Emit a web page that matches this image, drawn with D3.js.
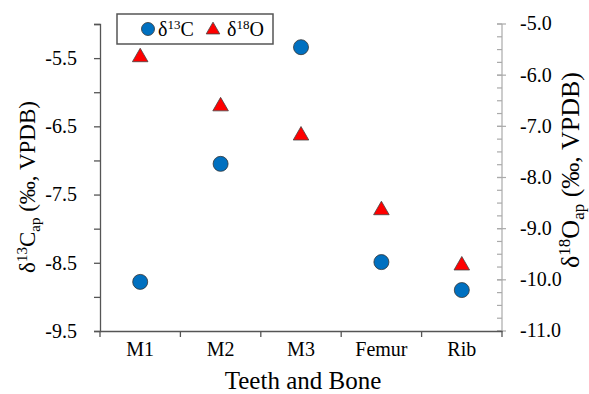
<!DOCTYPE html>
<html>
<head>
<meta charset="utf-8">
<script src="https://cdn.jsdelivr.net/npm/d3@7"></script>
<style>
  body { margin: 0; background: #fff; }
  svg text { font-family: "Liberation Serif", "Times New Roman", serif; fill: #000; }
</style>
</head>
<body>
<svg id="chart" width="589" height="394"></svg>
<script>
// data
const samples = ['M1', 'M2', 'M3', 'Femur', 'Rib'];
const d13C = [-8.78, -7.05, -5.34, -8.49, -8.90];
const d18O = [-5.62, -6.58, -7.15, -8.61, -9.69];
const leftTicks = [-9.5, -8.5, -7.5, -6.5, -5.5];
const rightTicks = [-11.0, -10.0, -9.0, -8.0, -7.0, -6.0, -5.0];

const svg = d3.select('#chart');
const plot = { left: 100, right: 502, top: 24, bottom: 331 };
const serif = '"Liberation Serif", "Times New Roman", serif';

const x = d3.scaleBand().domain(samples).range([plot.left, plot.right]);
const yL = d3.scaleLinear().domain([-9.5, -5.0]).range([plot.bottom, plot.top]);
const yR = d3.scaleLinear().domain([-11.0, -5.0]).range([plot.bottom, plot.top]);

// left axis
const leftAxis = d3.axisLeft(yL)
    .tickValues(d3.range(-9.5, -4.99, 0.5))
    .tickSize(6)
    .tickFormat(d => leftTicks.includes(+d.toFixed(1)) ? d.toFixed(1) : '');
const gL = svg.append('g').attr('transform', `translate(${plot.left},0)`).call(leftAxis)
    .attr('font-family', serif).attr('font-size', 20);
gL.select('.domain').attr('stroke', '#555').attr('stroke-width', 1.3);
gL.selectAll('.tick line').attr('stroke', '#555').attr('stroke-width', 1.3);
gL.selectAll('.tick text').attr('x', -23).style('font-size', '20px');

// right axis: minor ticks inside, major ticks across
const gR = svg.append('g').attr('transform', `translate(${plot.right},0)`);
gR.append('line').attr('y1', plot.top).attr('y2', plot.bottom).attr('stroke', '#aaa').attr('stroke-width', 1.2);
gR.selectAll('.minor').data(d3.range(-11.0, -4.99, 0.25)).join('line')
    .attr('x1', -5).attr('x2', 0)
    .attr('y1', d => yR(d)).attr('y2', d => yR(d))
    .attr('stroke', '#aaa').attr('stroke-width', 1.2);
gR.selectAll('.major').data(rightTicks).join('line')
    .attr('x1', -5).attr('x2', 4)
    .attr('y1', d => yR(d)).attr('y2', d => yR(d))
    .attr('stroke', '#aaa').attr('stroke-width', 1.2);
gR.selectAll('.lab').data(rightTicks).join('text')
    .attr('x', 18).attr('y', d => yR(d)).attr('dy', '0.32em')
    .style('font-size', '20px')
    .text(d => d.toFixed(1));

// x axis
const xAxis = d3.axisBottom(x).tickSize(0).tickPadding(11);
const gX = svg.append('g').attr('transform', `translate(0,${plot.bottom})`).call(xAxis)
    .attr('font-family', serif).attr('font-size', 20);
gX.select('.domain').attr('stroke', '#555').attr('stroke-width', 1.3);
gX.selectAll('.tick text').style('font-size', '20px');
gX.selectAll('.sep').data(samples.concat(['end'])).join('line')
    .attr('x1', (d, i) => plot.left + i * x.step()).attr('x2', (d, i) => plot.left + i * x.step())
    .attr('y1', 0).attr('y2', 6)
    .attr('stroke', '#555').attr('stroke-width', 1.3);

// axis titles
svg.append('text').attr('x', 303).attr('y', 389).attr('text-anchor', 'middle')
    .style('font-size', '25px').text('Teeth and Bone');

const tl = svg.append('text').attr('transform', 'translate(35,187) rotate(-90)')
    .attr('text-anchor', 'middle').style('font-size', '23px');
tl.append('tspan').text('δ');
tl.append('tspan').attr('dy', -8).style('font-size', '15px').text('13');
tl.append('tspan').attr('dy', 8).text('C');
tl.append('tspan').attr('dy', 5).style('font-size', '15px').text('ap');
tl.append('tspan').attr('dy', -5).text(' (‰, VPDB)');

const tr = svg.append('text').attr('transform', 'translate(579,170) rotate(-90)')
    .attr('text-anchor', 'middle').style('font-size', '26px');
tr.append('tspan').text('δ');
tr.append('tspan').attr('dy', -9).style('font-size', '17px').text('18');
tr.append('tspan').attr('dy', 9).text('O');
tr.append('tspan').attr('dy', 5).style('font-size', '17px').text('ap');
tr.append('tspan').attr('dy', -5).text(' (‰, VPDB)');

// markers
const tri = d3.symbol().type(d3.symbolTriangle).size(105);
svg.selectAll('.o18').data(samples).join('path')
    .attr('transform', (d, i) => `translate(${x(d) + x.bandwidth() / 2},${yR(d18O[i]) + 1.5})`)
    .attr('d', tri).attr('fill', '#ff0000').attr('stroke', '#444').attr('stroke-width', 0.8);
svg.selectAll('.c13').data(samples).join('circle')
    .attr('cx', d => x(d) + x.bandwidth() / 2)
    .attr('cy', (d, i) => yL(d13C[i]))
    .attr('r', 7.5).attr('fill', '#0070c0').attr('stroke', '#333').attr('stroke-width', 0.8);

// legend
const lg = svg.append('g');
lg.append('rect').attr('x', 117).attr('y', 14).attr('width', 156).attr('height', 30)
    .attr('fill', '#fff').attr('stroke', '#555').attr('stroke-width', 1.5);
lg.append('circle').attr('cx', 148).attr('cy', 29).attr('r', 6.5)
    .attr('fill', '#0070c0').attr('stroke', '#333').attr('stroke-width', 0.8);
const l1 = lg.append('text').attr('x', 158).attr('y', 36).style('font-size', '20px');
l1.append('tspan').text('δ');
l1.append('tspan').attr('dy', -7).style('font-size', '13px').text('13');
l1.append('tspan').attr('dy', 7).text('C');
lg.append('path').attr('transform', 'translate(213,30)').attr('d', d3.symbol().type(d3.symbolTriangle).size(80))
    .attr('fill', '#ff0000').attr('stroke', '#444').attr('stroke-width', 0.8);
const l2 = lg.append('text').attr('x', 227).attr('y', 36).style('font-size', '20px');
l2.append('tspan').text('δ');
l2.append('tspan').attr('dy', -7).style('font-size', '13px').text('18');
l2.append('tspan').attr('dy', 7).text('O');
</script>
</body>
</html>
